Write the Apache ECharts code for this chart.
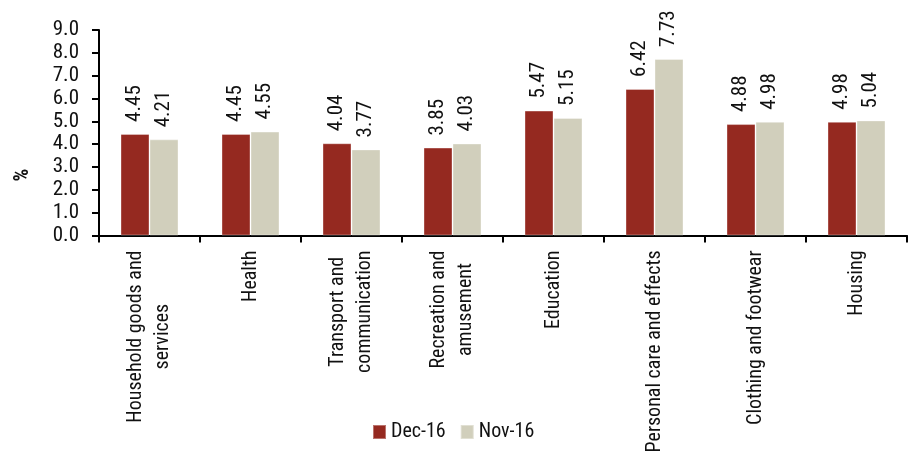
<!DOCTYPE html>
<html>
<head>
<meta charset="utf-8">
<script src="https://cdn.jsdelivr.net/npm/echarts@6/dist/echarts.min.js"></script>
<style>
html,body{margin:0;padding:0;background:#fff;}
#chart{width:914px;height:454px;}
</style>
</head>
<body>
<div id="chart"></div>
<script>
const categories = [
  "Household goods and\nservices",
  "Health",
  "Transport and\ncommunication",
  "Recreation and\namusement",
  "Education",
  "Personal care and effects",
  "Clothing and footwear",
  "Housing"
];
const dec16 = [4.45, 4.45, 4.04, 3.85, 5.47, 6.42, 4.88, 4.98];
const nov16 = [4.21, 4.55, 3.77, 4.03, 5.15, 7.73, 4.98, 5.04];
const seriesNames = ["Dec-16", "Nov-16"];
const yTicks = { min: 0, max: 9, interval: 1 };

const FONT = "'Roboto Condensed', 'DejaVu Sans Condensed', sans-serif";
const chart = echarts.init(document.getElementById('chart'), null, { renderer: 'canvas' });

const valueLabel = {
  show: true,
  position: 'top',
  rotate: 90,
  align: 'left',
  verticalAlign: 'middle',
  distance: 12,
  fontFamily: FONT,
  fontSize: 21,
  color: '#111',
  formatter: p => p.value.toFixed(2)
};

chart.setOption({
  animation: false,
  backgroundColor: '#ffffff',
  grid: { left: 99, right: 7, top: 30, bottom: 218.5, containLabel: false, outerBoundsMode: 'none' },
  legend: {
    left: 367,
    top: 417,
    itemWidth: 13,
    itemHeight: 14,
    itemGap: 14,
    icon: 'rect',
    textStyle: { fontFamily: FONT, fontSize: 20, color: '#111' },
    data: seriesNames
  },
  graphic: [{
    type: 'text',
    x: 23,
    y: 175,
    rotation: Math.PI / 2,
    style: {
      text: '%',
      font: "bold 20px " + FONT,
      fill: '#111',
      textAlign: 'center',
      textVerticalAlign: 'middle'
    }
  }],
  xAxis: {
    type: 'category',
    data: categories,
    boundaryGap: true,
    axisLine: { lineStyle: { color: '#000', width: 2 } },
    axisTick: { show: true, length: 7, lineStyle: { color: '#000', width: 2 } },
    axisLabel: {
      interval: 0,
      rotate: 90,
      margin: 15,
      fontFamily: FONT,
      fontSize: 20,
      color: '#111',
      formatter: v => v.split('\n').map(s => '{a|' + s + '}').join('\n'),
      rich: { a: { align: 'center', fontFamily: FONT, fontSize: 20, lineHeight: 27, color: '#111' } }
    }
  },
  yAxis: {
    type: 'value',
    min: yTicks.min,
    max: yTicks.max,
    interval: yTicks.interval,
    axisLine: { show: true, lineStyle: { color: '#000', width: 2 } },
    axisTick: { show: true, length: 7, lineStyle: { color: '#000', width: 2 } },
    splitLine: { show: false },
    axisLabel: {
      margin: 20,
      fontFamily: FONT,
      fontSize: 21,
      color: '#111',
      formatter: v => v.toFixed(1)
    }
  },
  series: [
    {
      name: seriesNames[0],
      type: 'bar',
      data: dec16,
      barWidth: 29,
      barGap: '0%',
      itemStyle: { color: '#952920', borderColor: 'rgba(255,255,255,0.35)', borderWidth: 1 },
      label: valueLabel
    },
    {
      name: seriesNames[1],
      type: 'bar',
      data: nov16,
      barWidth: 29,
      barGap: '0%',
      itemStyle: { color: '#d1cfbc', borderColor: 'rgba(255,255,255,0.35)', borderWidth: 1 },
      label: valueLabel
    }
  ]
});
</script>
</body>
</html>
